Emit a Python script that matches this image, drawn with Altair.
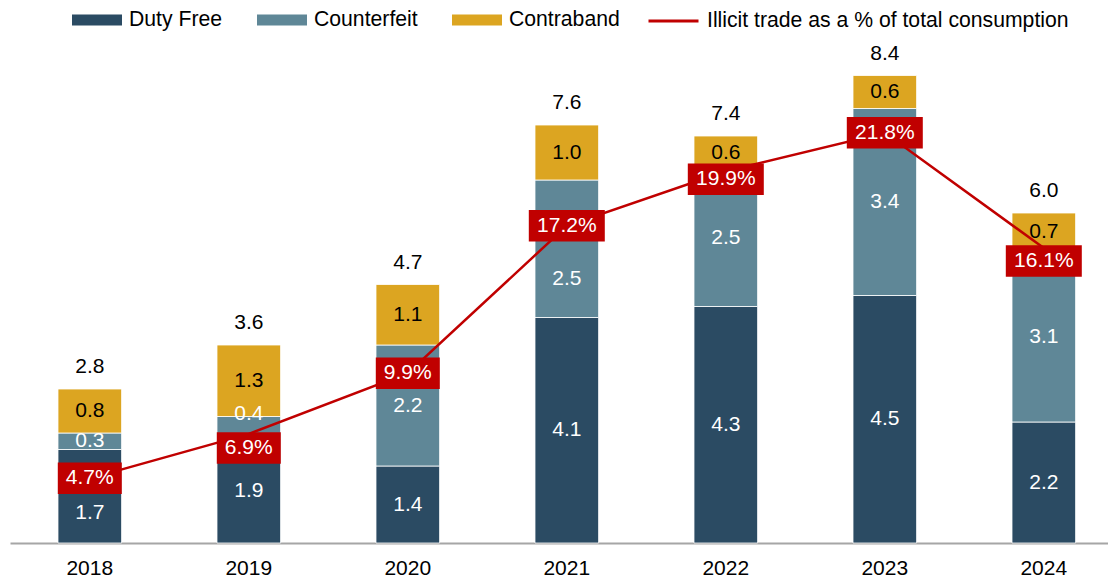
import altair as alt
import pandas as pd

years = ['2018', '2019', '2020', '2021', '2022', '2023', '2024']
duty_free = [1.7, 1.9, 1.4, 4.1, 4.3, 4.5, 2.2]
counterfeit = [0.3, 0.4, 2.2, 2.5, 2.5, 3.4, 3.1]
contraband = [0.8, 1.3, 1.1, 1.0, 0.6, 0.6, 0.7]
totals = [2.8, 3.6, 4.7, 7.6, 7.4, 8.4, 6.0]
illicit_pct = [4.7, 6.9, 9.9, 17.2, 19.9, 21.8, 16.1]

categories = ['Duty Free', 'Counterfeit', 'Contraband']
cat_colors = ['#2b4b63', '#5f8797', '#dca521']
line_name = 'Illicit trade as a % of total consumption'
line_color = '#c00000'

# label placement nudges (pixels, positive = down), as in the reference layout
pct_label_nudge = {'2019': 14, '2022': 8, '2024': 13}
seg_label_nudge = {('2018', 'Duty Free'): 17, ('2019', 'Counterfeit'): -14,
                   ('2021', 'Counterfeit'): 30}

W, H = 1098, 495
bar_dom = [0, 9]
line_dom = [1.5, 26.0]
px_bar = H / (bar_dom[1] - bar_dom[0])
px_line = H / (line_dom[1] - line_dom[0])

rows = []
for i, yv in enumerate(years):
    for k, (cat, vals) in enumerate(zip(categories, [duty_free, counterfeit, contraband])):
        rows.append({'year': yv, 'cat': cat, 'order': k, 'value': vals[i],
                     'nudge': seg_label_nudge.get((yv, cat), 0) / px_bar})
seg = pd.DataFrame(rows)
yr = pd.DataFrame({'year': years, 'total': totals, 'pct': illicit_pct,
                   'df': duty_free, 'cf': counterfeit, 'cb': contraband,
                   'series': line_name,
                   'nudge': [pct_label_nudge.get(yv, 0) / px_line for yv in years]})

X = alt.X('year:N', title=None, sort=years,
          scale=alt.Scale(paddingInner=0.6, paddingOuter=0.2528, align=0.597, round=False),
          axis=alt.Axis(labelAngle=0, ticks=False, domainColor='#a6a6a6', domainWidth=2,
                        labelFontSize=21, labelColor='#000000', labelPadding=14, grid=False))

bar_scale = alt.Scale(domain=bar_dom, nice=False, zero=True)
line_scale = alt.Scale(domain=line_dom, nice=False, zero=False)

stacked = alt.Chart(seg).transform_stack(
    stack='value', groupby=['year'], as_=['v0', 'v1'],
    sort=[alt.SortField('order', order='ascending')]
).transform_calculate(mid='(datum.v0 + datum.v1) / 2 - datum.nudge')

bars = stacked.mark_bar(stroke='#ffffff', strokeWidth=0.8).encode(
    x=X,
    y=alt.Y('v0:Q', scale=bar_scale, axis=None),
    y2='v1:Q',
    color=alt.Color('cat:N', scale=alt.Scale(domain=categories, range=cat_colors),
                    legend=alt.Legend(title=None, orient='none', legendX=62, legendY=-53.5,
                                      direction='horizontal',
                                      symbolType='M-1,-0.22H1V0.22H-1Z', symbolSize=2500,
                                      symbolStrokeWidth=0, labelFontSize=21.2,
                                      labelColor='#000000', labelOffset=7, columnPadding=34,
                                      labelLimit=600)),
)

seg_text = stacked.mark_text(fontSize=21).encode(
    x=X,
    y=alt.Y('mid:Q', scale=bar_scale, axis=None),
    text=alt.Text('value:Q', format='.1f'),
    color=alt.condition("datum.cat == 'Contraband'", alt.value('#000000'), alt.value('#ffffff')),
)

tot = alt.Chart(yr).transform_calculate(
    top='datum.df + datum.cf + datum.cb'
).mark_text(fontSize=21, baseline='alphabetic', dy=-16, color='#000000').encode(
    x=X,
    y=alt.Y('top:Q', scale=bar_scale, axis=None),
    text=alt.Text('total:Q', format='.1f'),
)

line = alt.Chart(yr).mark_line(strokeWidth=2.5).encode(
    x=X,
    y=alt.Y('pct:Q', scale=line_scale, axis=None),
    stroke=alt.Stroke('series:N', scale=alt.Scale(domain=[line_name], range=[line_color]),
                      legend=alt.Legend(title=None, orient='none', legendX=637, legendY=-53.5,
                                        symbolType='stroke', symbolSize=2500,
                                        symbolStrokeWidth=3, labelFontSize=21.2,
                                        labelColor='#000000', labelOffset=7,
                                        labelLimit=600)),
)

labels = alt.Chart(yr).transform_calculate(
    ypos='datum.pct - datum.nudge',
    lo='datum.pct - datum.nudge - 0.78', hi='datum.pct - datum.nudge + 0.78',
    bw='datum.pct >= 10 ? 76 : 64',
    lbl="format(datum.pct, '.1f') + '%'"
)

boxes = labels.mark_bar(color=line_color).encode(
    x=X,
    y=alt.Y('lo:Q', scale=line_scale, axis=None),
    y2='hi:Q',
    size=alt.Size('bw:Q', scale=None, legend=None),
)

box_text = labels.mark_text(fontSize=21, color='#ffffff').encode(
    x=X,
    y=alt.Y('ypos:Q', scale=line_scale, axis=None),
    text='lbl:N',
)

chart = alt.layer(bars, seg_text, tot, line, boxes, box_text).resolve_scale(
    y='independent'
).properties(
    width=W, height=H,
    autosize=alt.AutoSizeParams(type='none'),
    padding={'left': 2, 'top': 40, 'right': 0, 'bottom': 35},
).configure(font='Liberation Sans').configure_view(strokeWidth=0)

chart.save("out.html", embed_options={"renderer": "svg", "actions": False})
